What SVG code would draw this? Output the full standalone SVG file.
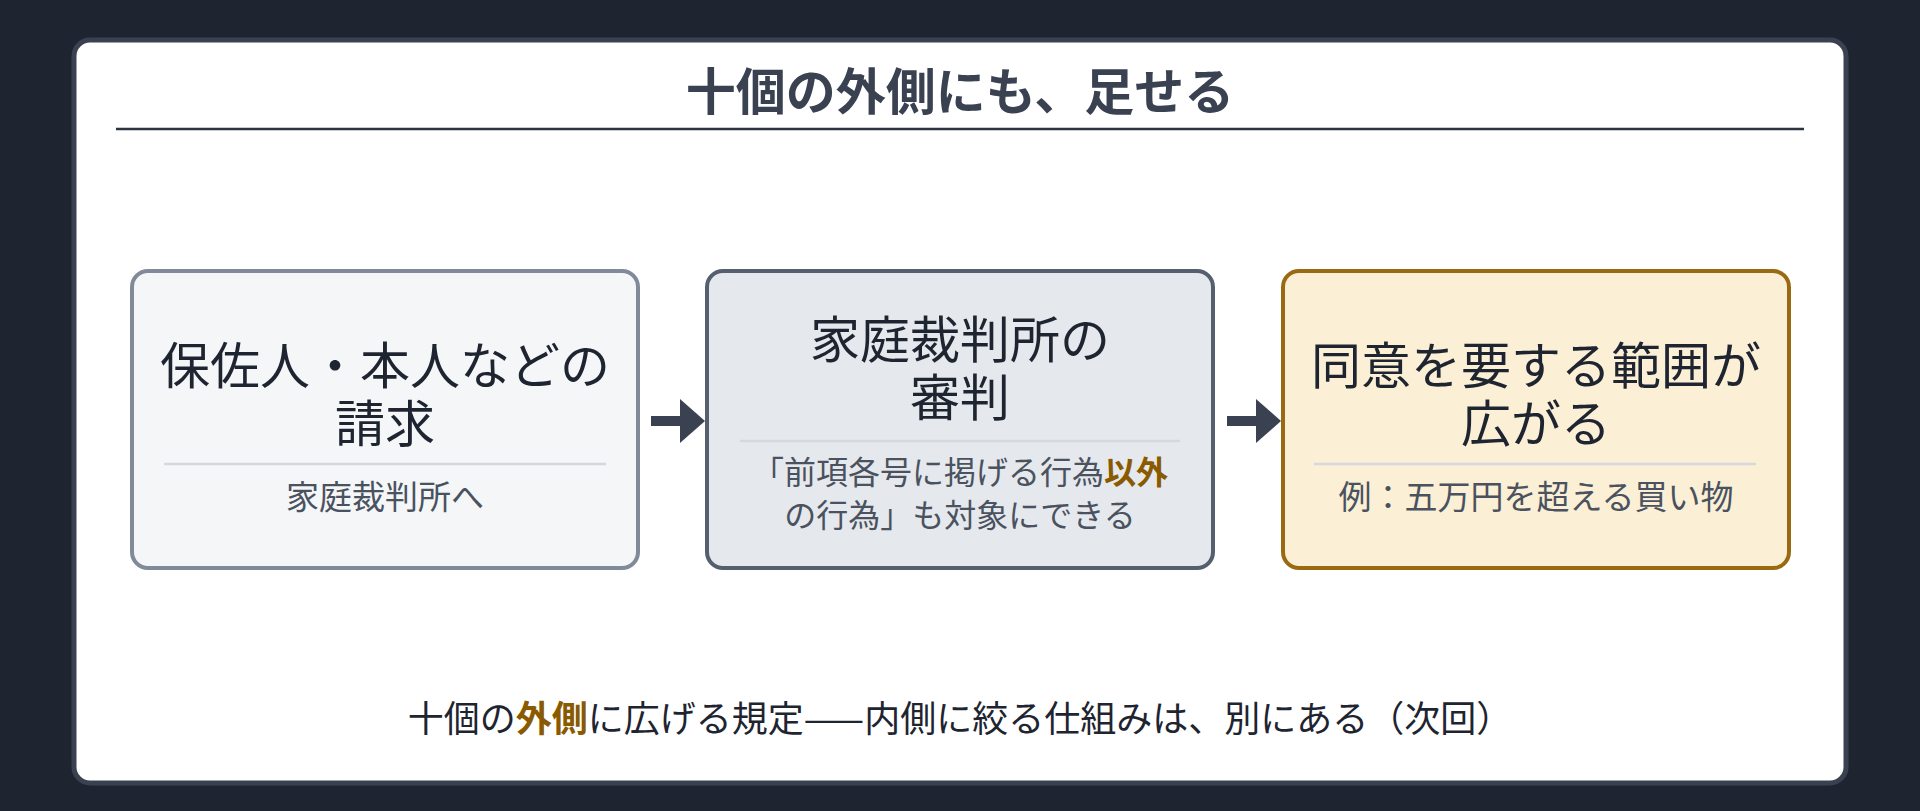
<svg xmlns="http://www.w3.org/2000/svg" width="1920" height="811" viewBox="0 0 1920 811">
<defs>
<style>
text{font-family:"Noto Sans CJK JP","Noto Sans",sans-serif;text-anchor:middle;dominant-baseline:central}
.t{font-size:50px;fill:#1e2430}
.s{font-size:33px;fill:#4a5260}
.s2{font-size:32px;fill:#4a5260}
.hl{fill:#8a5a00;font-weight:bold}
.div{stroke:#d5d8dc;stroke-width:2.5}
</style>
</defs>
<rect width="1920" height="811" fill="#1e2430"/>
<rect x="74" y="40" width="1772" height="743" rx="16" fill="#ffffff" stroke="#3a4252" stroke-width="5"/>
<g id="title">
<text x="960" y="88" style="font-size:50px;font-weight:bold;fill:#3a4252">十個の外側にも、足せる</text>
<line x1="116" y1="129" x2="1804" y2="129" stroke="#2d3340" stroke-width="2.5"/>
</g>
<g id="n1">
<rect x="132" y="271" width="506" height="297" rx="16" fill="#f4f6f8" stroke="#808a98" stroke-width="4"/>
<text class="t" x="385" y="362">保佐人・本人などの</text>
<text class="t" x="385" y="420">請求</text>
<line class="div" x1="164" y1="464" x2="606" y2="464"/>
<text class="s" x="385" y="495">家庭裁判所へ</text>
</g>
<g id="n2">
<rect x="707" y="271" width="506" height="297" rx="16" fill="#e5e8ec" stroke="#555f6e" stroke-width="4"/>
<text class="t" x="960" y="336">家庭裁判所の</text>
<text class="t" x="960" y="394">審判</text>
<line class="div" x1="740" y1="441" x2="1180" y2="441"/>
<text class="s2" x="960" y="470">「前項各号に掲げる行為<tspan class="hl">以外</tspan></text>
<text class="s2" x="960" y="513">の行為」も対象にできる</text>
</g>
<g id="n3">
<rect x="1283" y="271" width="506" height="297" rx="16" fill="#fbefd5" stroke="#9a6a12" stroke-width="4"/>
<text class="t" x="1536" y="362">同意を要する範囲が</text>
<text class="t" x="1536" y="420">広がる</text>
<line class="div" x1="1314" y1="464" x2="1756" y2="464"/>
<text class="s" x="1536" y="495">例：五万円を超える買い物</text>
</g>
<g id="connectors" fill="#3a4252">
<rect x="651" y="416" width="32" height="10"/>
<polygon points="680,399 705,421 680,443"/>
<rect x="1227" y="416" width="32" height="10"/>
<polygon points="1256,399 1281,421 1256,443"/>
</g>
<g id="footer">
<text x="960" y="716" style="font-size:36px;fill:#1e2430">十個の<tspan class="hl">外側</tspan>に広げる規定——内側に絞る仕組みは、別にある（次回）</text>
</g>
</svg>
